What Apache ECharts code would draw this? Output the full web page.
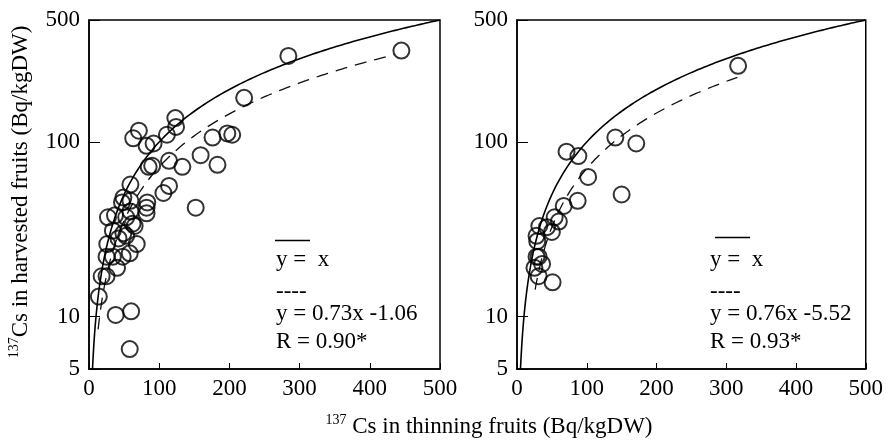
<!DOCTYPE html>
<html><head><meta charset="utf-8">
<script src="https://cdn.jsdelivr.net/npm/echarts@6/dist/echarts.min.js"></script>
<style>html,body{margin:0;padding:0;background:#fff}#c{width:886px;height:442px}</style>
</head><body><div id="c"></div>
<script>
// Left panel observations: [thinning, harvested] Bq/kgDW
const leftPoints = [[445,334],[284,311],[221,179],[123,137],[124,122],[111,110],[71,116],[63,105],[82,95],[92,98],[176,106],[197,112],[204,110],[159,84],[183,74],[133,72],[114,78],[85,72],[90,73],[59,57],[114,56],[106,51],[152,42],[49,48],[47,45],[83,45],[82,42],[82,39],[59,46],[59,40],[37,38],[27,37],[53,37],[62,34],[65,33],[34,31],[49,30],[42,28],[53,29],[26,26],[68,26],[58,23],[25,22],[48,22],[34,22],[40,19],[18,17],[25,17],[14,13],[38,10.2],[60,10.7],[58,6.5]];
// Right panel observations
const rightPoints = [[317,273],[141,106],[171,98],[71,88],[88,83],[102,63],[150,50],[67,43],[87,46],[54,37],[60,35],[32,33],[43,32.5],[50,30.5],[28,29],[29,27],[31,22],[28,22],[36,20],[25,19],[31,17],[51,15.7]];
// Regression: [slope, intercept, xStart, xEnd]
const leftFit = [0.73, -1.06, 13, 435];
const rightFit = [0.76, -5.52, 26, 316];
// 1:1 line range
const oneToOne = [5, 500];
const xTickLabels = [0,100,200,300,400,500];
const leftLegend = ['y =  x', '----', 'y = 0.73x -1.06', 'R = 0.90*'];
const rightLegend = ['y =  x', '----', 'y = 0.76x -5.52', 'R = 0.93*'];

function curve(a, b, x0, x1) {
  const out = [];
  let x = x0;
  while (x < x1) { out.push([x, a * x + b]); x += (x < 60 ? 0.5 : 4); }
  out.push([x1, a * x1 + b]);
  return out;
}
const FONT = 'Liberation Serif';
const FS = 23;
const chart = echarts.init(document.getElementById('c'));
function xAxis(i) {
  return {gridIndex:i, type:'value', min:0, max:500, interval:100,
    axisLine:{show:true, lineStyle:{color:'#000', width:1.5}},
    axisTick:{inside:true, length:6, lineStyle:{color:'#000', width:1}},
    axisLabel:{fontFamily:FONT, fontSize:FS, color:'#000', margin:8,
      formatter: v => xTickLabels.includes(v) ? String(v) : ''},
    splitLine:{show:false}};
}
function yAxis(i) {
  return {gridIndex:i, type:'log', logBase:10, min:5, max:500,
    axisLine:{show:true, lineStyle:{color:'#000', width:1.5}},
    axisTick:{inside:true, length:11, lineStyle:{color:'#000', width:1}},
    axisLabel:{fontFamily:FONT, fontSize:FS, color:'#000', margin:9, showMinLabel:true, showMaxLabel:true},
    minorTick:{show:false}, splitLine:{show:false}};
}
const circleStyle = {color:'rgba(0,0,0,0)', borderColor:'#000', borderWidth:2};
function legendText(x, lines) {
  const ys = [260, 292, 314, 342];
  return lines.map((t, k) => ({type:'text', x:x, y:ys[k],
    style:{text:t, font:FS + 'px "' + FONT + '"', fill:'#000', verticalAlign:'middle', align:'left'}}));
}
const richTitle = {
  s:{fontFamily:FONT, fontSize:14, fill:'#000', verticalAlign:'top', lineHeight:14},
  n:{fontFamily:FONT, fontSize:FS, fill:'#000', verticalAlign:'middle', lineHeight:28}
};
chart.setOption({
  animation:false,
  backgroundColor:'#fff',
  grid:[
    {left:89, top:20, width:351, height:349, show:true, borderColor:'#000', borderWidth:1.5, backgroundColor:'transparent'},
    {left:517, top:20, width:350, height:349, show:true, borderColor:'#000', borderWidth:1.5, backgroundColor:'transparent'}
  ],
  xAxis:[xAxis(0), xAxis(1)],
  yAxis:[yAxis(0), yAxis(1)],
  series:[
    {type:'line', xAxisIndex:0, yAxisIndex:0, data:curve(1,0,oneToOne[0],oneToOne[1]), showSymbol:false, symbol:'none',
      lineStyle:{color:'#000', width:1.6}, z:1},
    {type:'line', xAxisIndex:0, yAxisIndex:0, data:curve(leftFit[0],leftFit[1],leftFit[2],leftFit[3]), showSymbol:false, symbol:'none',
      lineStyle:{color:'#111', width:1.3, type:[12,8]}, z:1},
    {type:'scatter', xAxisIndex:0, yAxisIndex:0, data:leftPoints, symbol:'circle', symbolSize:16, itemStyle:circleStyle, z:3},
    {type:'line', xAxisIndex:1, yAxisIndex:1, data:curve(1,0,oneToOne[0],oneToOne[1]), showSymbol:false, symbol:'none',
      lineStyle:{color:'#000', width:1.6}, z:1},
    {type:'line', xAxisIndex:1, yAxisIndex:1, data:curve(rightFit[0],rightFit[1],rightFit[2],rightFit[3]), showSymbol:false, symbol:'none',
      lineStyle:{color:'#111', width:1.3, type:[12,8]}, z:1},
    {type:'scatter', xAxisIndex:1, yAxisIndex:1, data:rightPoints, symbol:'circle', symbolSize:16, itemStyle:circleStyle, z:3}
  ],
  graphic:[
    {type:'line', shape:{x1:275, y1:240.5, x2:310, y2:240.5}, style:{stroke:'#000', lineWidth:1.6}},
    {type:'line', shape:{x1:715, y1:237.5, x2:750, y2:237.5}, style:{stroke:'#000', lineWidth:1.6}},
    ...legendText(276, leftLegend),
    ...legendText(710, rightLegend),
    {type:'text', x:21, y:192, rotation:Math.PI/2,
      style:{text:'{s|137}{n|Cs in harvested fruits (Bq/kgDW)}', align:'center', verticalAlign:'middle', rich:richTitle}},
    {type:'text', x:489, y:427,
      style:{text:'{s|137}{n| Cs in thinning fruits (Bq/kgDW)}', align:'center', verticalAlign:'middle', rich:richTitle}}
  ]
});
</script></body></html>
